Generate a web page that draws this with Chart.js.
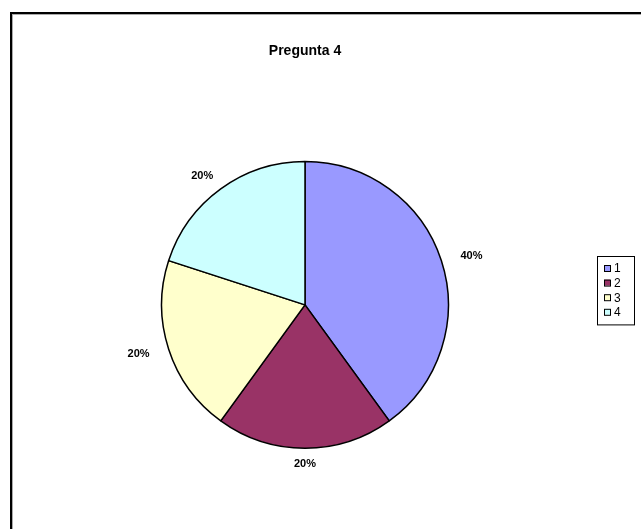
<!DOCTYPE html>
<html>
<head>
<meta charset="utf-8">
<script src="https://cdn.jsdelivr.net/npm/chart.js@4.4.1/dist/chart.umd.min.js"></script>
<style>
    html, body { margin: 0; padding: 0; background: #fff; }
    #wrap { position: relative; width: 641px; height: 529px; overflow: hidden; }
    #frame {
        position: absolute; left: 10px; top: 12px; width: 700px; height: 600px;
        border-left: 2px solid #000; border-top: 2px solid #000;
        box-shadow: inset 1px 1px 0 #aaa;
    }
    #preguntaChart { position: absolute; left: 0; top: 0; }
</style>
</head>
<body>
<div id="wrap">
    <div id="frame"></div>
    <canvas id="preguntaChart" width="641" height="529"></canvas>
</div>
<script>
const categories = ['1', '2', '3', '4'];
const values = [40, 20, 20, 20];
const sliceColors = ['#9999FF', '#993366', '#FFFFCC', '#CCFFFF'];
const chartTitle = 'Pregunta 4';

// percentage labels outside each slice
const pctLabels = {
    id: 'pctLabels',
    afterDatasetsDraw(chart) {
        const ctx = chart.ctx;
        const meta = chart.getDatasetMeta(0);
        const total = values.reduce((a, b) => a + b, 0);
        ctx.save();
        ctx.font = 'bold 11px "Liberation Sans", Arial, sans-serif';
        ctx.fillStyle = '#000';
        ctx.textAlign = 'center';
        ctx.textBaseline = 'middle';
        meta.data.forEach((arc, i) => {
            const p = arc.getProps(['x', 'y', 'startAngle', 'endAngle', 'outerRadius'], true);
            const mid = (p.startAngle + p.endAngle) / 2;
            const txt = Math.round(values[i] / total * 100) + '%';
            const hw = ctx.measureText(txt).width / 2;
            const c = Math.cos(mid), s = Math.sin(mid);
            const x = p.x + (p.outerRadius + 14) * c + hw * 1.6 * c;
            const y = p.y + (p.outerRadius + 11) * s + 5 * s;
            ctx.fillText(txt, x, y);
        });
        ctx.restore();
    }
};

// excel style boxed legend on the right
const boxLegend = {
    id: 'boxLegend',
    afterDraw(chart) {
        const ctx = chart.ctx;
        const left = 597, top = 256, w = 37, rowH = 14.6;
        const h = categories.length * rowH + 10;
        ctx.save();
        ctx.fillStyle = '#fff';
        ctx.fillRect(left, top, w, h);
        ctx.strokeStyle = '#000';
        ctx.lineWidth = 1;
        ctx.strokeRect(left + 0.5, top + 0.5, w, h);
        ctx.font = '12px "Liberation Sans", Arial, sans-serif';
        ctx.textBaseline = 'middle';
        categories.forEach((c, i) => {
            const cy = top + 12 + i * rowH;
            ctx.fillStyle = sliceColors[i];
            ctx.fillRect(604, cy - 3, 6, 6);
            ctx.strokeStyle = '#000';
            ctx.strokeRect(604.5, cy - 2.5, 6, 6);
            ctx.fillStyle = '#000';
            ctx.fillText(c, 614, cy + 1);
        });
        ctx.restore();
    }
};

function buildPieChart() {
    let ctx = document.getElementById('preguntaChart');
    let pieChart = new Chart(ctx, {
        type: 'pie',
        data: {
            labels: categories,
            datasets: [{
                data: values,
                backgroundColor: sliceColors,
                borderColor: '#000',
                borderWidth: 1.5,
                hoverOffset: 0
            }]
        },
        options: {
            responsive: false,
            animation: false,
            events: [],
            layout: {
                padding: { left: 160, right: 191, top: 0, bottom: 80 }
            },
            plugins: {
                legend: { display: false },
                tooltip: { enabled: false },
                title: {
                    display: true,
                    text: chartTitle,
                    color: '#000',
                    font: { family: '"Liberation Sans", Arial, sans-serif', size: 14, weight: 'bold' },
                    padding: { top: 43, bottom: 101 }
                }
            }
        },
        plugins: [pctLabels, boxLegend]
    });
}

buildPieChart();
</script>
</body>
</html>
